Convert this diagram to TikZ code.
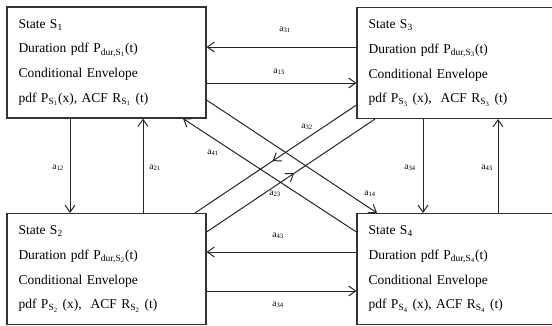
\documentclass[tikz,border=0pt]{standalone}
\usepackage{fontspec}
\setmainfont{Liberation Serif}
\usetikzlibrary{arrows.meta,decorations.markings}

\begin{document}
\begin{tikzpicture}[x=1pt, y=-1pt,
    state/.style={draw=black!80, line width=1.1pt, text width=176pt, inner xsep=11.5pt, inner ysep=0pt,
                  minimum height=111pt, align=left, font=\fontsize{13.5}{24.7}\selectfont},
    trans/.style={draw=black!85, line width=1pt, -{Straight Barb[length=7pt,width=10pt]}},
    midtrans/.style={draw=black!85, line width=1pt, postaction={decorate},
                  decoration={markings, mark=at position 0.52 with {\arrow{Straight Barb[length=7pt,width=10pt]}}}},
    prob/.style={font=\fontsize{9.5}{11}\selectfont, inner sep=1pt}
]
\useasboundingbox (0,0) rectangle (552,325);

% States
\node[state] (s1) at (106.5,62.5) {State S\textsubscript{1}\\
    Duration pdf P\textsubscript{dur,S\textsubscript{1}}(t)\\
    Conditional Envelope\\
    pdf P\textsubscript{S\textsubscript{1}}(x), ACF R\textsubscript{S\textsubscript{1}} (t)};
\node[state] (s3) at (456.5,63) {State S\textsubscript{3}\\
    Duration pdf P\textsubscript{dur,S\textsubscript{3}}(t)\\
    Conditional Envelope\\
    pdf P\textsubscript{S\textsubscript{3}} (x), \ ACF R\textsubscript{S\textsubscript{3}} (t)};
\node[state] (s2) at (106.5,269) {State S\textsubscript{2}\\
    Duration pdf P\textsubscript{dur,S\textsubscript{2}}(t)\\
    Conditional Envelope\\
    pdf P\textsubscript{S\textsubscript{2}} (x), \ ACF R\textsubscript{S\textsubscript{2}} (t)};
\node[state] (s4) at (456.5,269) {State S\textsubscript{4}\\
    Duration pdf P\textsubscript{dur,S\textsubscript{4}}(t)\\
    Conditional Envelope\\
    pdf P\textsubscript{S\textsubscript{4}} (x), ACF R\textsubscript{S\textsubscript{4}} (t)};

% Horizontal transitions
\draw[trans] ([yshift=16pt]s3.west) -- ([yshift=16pt]s3.west -| s1.east);
\draw[trans] ([yshift=-20.5pt]s1.east) -- ([yshift=-20.5pt]s1.east -| s3.west);
\draw[trans] ([yshift=17pt]s4.west) -- ([yshift=17pt]s4.west -| s2.east);
\draw[trans] ([yshift=-22pt]s2.east) -- ([yshift=-22pt]s2.east -| s4.west);

% Vertical transitions
\draw[trans] ([xshift=-36.5pt]s1.south) -- ([xshift=-36.5pt]s1.south |- s2.north);
\draw[trans] ([xshift=36.5pt]s2.north) -- ([xshift=36.5pt]s2.north |- s1.south);
\draw[trans] ([xshift=-33.5pt]s3.south) -- ([xshift=-33.5pt]s3.south |- s4.north);
\draw[trans] ([xshift=41.5pt]s4.north) -- ([xshift=41.5pt]s4.north |- s3.south);

% Diagonal transitions
\draw[trans] ([yshift=-37.5pt]s1.east) -- ([xshift=-79.5pt]s4.north);
\draw[trans] ([yshift=37pt]s4.west) -- ([xshift=76.5pt]s1.south);
\draw[midtrans] ([yshift=-42pt]s3.west) -- ([xshift=88.5pt]s2.north);
\draw[midtrans] ([yshift=37pt]s2.east) -- ([xshift=-81.5pt]s3.south);

% Transition labels
\node[prob] (l31) at (285,30) {a\textsubscript{31}};
\node[prob] (l13) at (279,72) {a\textsubscript{13}};
\node[prob] (l43b) at (278,236) {a\textsubscript{43}};
\node[prob] (l34b) at (278,305) {a\textsubscript{34}};
\node[prob] (l12) at (58,168) {a\textsubscript{12}};
\node[prob] (l21) at (155,168) {a\textsubscript{21}};
\node[prob] (l34) at (410,168) {a\textsubscript{34}};
\node[prob] (l43) at (487,168) {a\textsubscript{43}};
\node[prob] (l41) at (213,153) {a\textsubscript{41}};
\node[prob] (l32) at (307,127) {a\textsubscript{32}};
\node[prob] (l23) at (275,194) {a\textsubscript{23}};
\node[prob] (l14) at (370,194) {a\textsubscript{14}};

\end{tikzpicture}
\end{document}
